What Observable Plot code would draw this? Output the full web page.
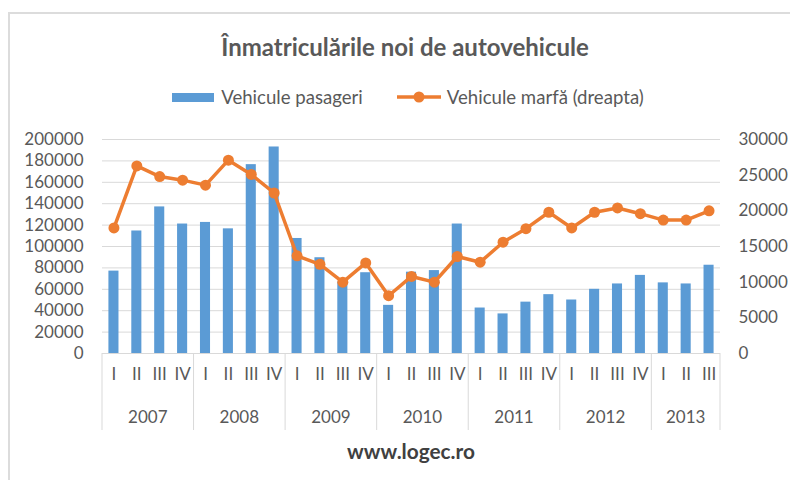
<!DOCTYPE html>
<html>
<head>
<meta charset="utf-8">
<script src="https://cdn.jsdelivr.net/npm/d3@7"></script>
<script src="https://cdn.jsdelivr.net/npm/@observablehq/plot@0.6"></script>
<style>
  html, body { margin: 0; padding: 0; background: #fff; }
  #wrap { position: relative; width: 790px; height: 480px; overflow: hidden; font-family: Lato, "Liberation Sans", sans-serif; color: #595959; }
  #frame { position: absolute; left: 8px; top: 12px; right: -4px; bottom: -4px; border-top: 2px solid #dcdcdc; border-left: 2px solid #dcdcdc; pointer-events: none; }
  #title { position: absolute; left: 0; top: 32px; width: 810px; height: 30px; line-height: 30px; text-align: center; font-weight: bold; font-size: 24px; color: #595959; }
  #legend { position: absolute; left: 0; top: 85px; width: 816px; height: 24px; display: flex; justify-content: center; align-items: center; font-size: 18.6px; color: #595959; }
  #legend .sw { width: 42px; height: 9px; background: #5B9BD5; margin-right: 7px; }
  #legend .gap { width: 34px; }
  #legend svg { margin-right: 6px; }
  #chart { position: absolute; left: 0; top: 109px; }
  #footer { position: absolute; left: 0; top: 436px; width: 822px; height: 30px; line-height: 30px; text-align: center; font-weight: bold; font-size: 20.8px; color: #404040; }
</style>
</head>
<body>
<div id="wrap">
  <div id="frame"></div>
  <div id="title">Înmatriculările noi de autovehicule</div>
  <div id="legend">
    <div class="sw"></div><span>Vehicule pasageri</span>
    <div class="gap"></div>
    <svg width="44" height="14"><line x1="0" y1="7" x2="44" y2="7" stroke="#ED7D31" stroke-width="3.5"/><circle cx="22" cy="7" r="5.5" fill="#ED7D31"/></svg><span>Vehicule marfă (dreapta)</span>
  </div>
  <div id="chart"></div>
  <div id="footer">www.logec.ro</div>
</div>
<script>
// ---- data ----
const yearLabels = ["2007", "2008", "2009", "2010", "2011", "2012", "2013"];
const quartersPerYear = [4, 4, 4, 4, 4, 4, 3];
const quarterLabels = ["I", "II", "III", "IV"];
// Vehicule pasageri (left axis)
const pasageri = [77000, 114500, 137000, 121000, 122500, 116500, 176500, 193000,
                  107500, 89500, 67000, 75500, 45000, 76000, 77500, 121000,
                  42500, 37000, 48000, 55000, 50000, 60000, 65000, 73000,
                  66000, 65000, 82500];
// Vehicule marfă (right axis)
const marfa = [17600, 26300, 24800, 24300, 23600, 27100, 25100, 22500,
               13700, 12500, 10000, 12700, 8100, 10800, 10000, 13600,
               12800, 15600, 17500, 19800, 17600, 19800, 20400, 19600,
               18700, 18700, 20000];
const leftTicks = [0, 20000, 40000, 60000, 80000, 100000, 120000, 140000, 160000, 180000, 200000];
const rightTicks = [0, 5000, 10000, 15000, 20000, 25000, 30000];
const leftMax = 200000, rightMax = 30000;

// ---- table ----
const rows = [];
let idx = 0;
yearLabels.forEach((y, j) => {
  for (let q = 0; q < quartersPerYear[j]; q++) {
    rows.push({key: y + " " + quarterLabels[q], year: y, q: quarterLabels[q], pas: pasageri[idx], marfa: marfa[idx]});
    idx++;
  }
});
const keys = rows.map(d => d.key);
const k = leftMax / rightMax;
const pad = 0.56;

function yearAxis(index, scales, values, dims) {
  const x = scales.x;
  const step = x.step(), bw = x.bandwidth();
  const off = (step - bw) / 2;
  const bottom = dims.height - dims.marginBottom;
  const g = d3.create("svg:g");
  let i = 0;
  const bounds = [];
  yearLabels.forEach((y, j) => {
    const x0 = x(keys[i]) - off;
    const x1 = x(keys[i + quartersPerYear[j] - 1]) + bw + off;
    bounds.push(x0);
    if (j === yearLabels.length - 1) bounds.push(x1);
    g.append("text")
      .attr("x", (x0 + x1) / 2)
      .attr("y", bottom + 64)
      .attr("dy", "0.35em")
      .attr("text-anchor", "middle")
      .attr("fill", "#595959")
      .attr("font-size", 17)
      .text(y);
    i += quartersPerYear[j];
  });
  bounds.forEach(b => {
    g.append("line")
      .attr("x1", b).attr("x2", b)
      .attr("y1", bottom).attr("y2", bottom + 77)
      .attr("stroke", "#d9d9d9").attr("stroke-width", 1);
  });
  return g.node();
}

const chart = Plot.plot({
  width: 790,
  height: 327,
  marginLeft: 102,
  marginRight: 70,
  marginTop: 30,
  marginBottom: 83,
  style: {fontFamily: "Lato, 'Liberation Sans', sans-serif", fontSize: "17px", color: "#595959", background: "transparent", overflow: "visible"},
  x: {domain: keys, paddingInner: pad, paddingOuter: pad / 2, round: false, axis: null},
  y: {domain: [0, leftMax], axis: null},
  marks: [
    Plot.ruleY(leftTicks.slice(1), {stroke: "#d9d9d9", strokeWidth: 1}),
    Plot.axisY(leftTicks, {anchor: "left", tickSize: 0, tickPadding: 19, tickFormat: d => String(d), label: null, fill: "#595959", fontSize: 17}),
    Plot.axisY(rightTicks.map(v => v * k), {anchor: "right", tickSize: 0, tickPadding: 18, tickFormat: d => String(Math.round(d / k)), label: null, fill: "#595959", fontSize: 17}),
    Plot.barY(rows, {x: "key", y: "pas", fill: "#5B9BD5"}),
    Plot.ruleY([0], {stroke: "#d9d9d9", strokeWidth: 1}),
    Plot.line(rows, {x: "key", y: d => d.marfa * k, stroke: "#ED7D31", strokeWidth: 3.5, strokeLinejoin: "round"}),
    Plot.dot(rows, {x: "key", y: d => d.marfa * k, r: 5.5, fill: "#ED7D31", stroke: "none"}),
    Plot.text(rows, {x: "key", text: "q", frameAnchor: "bottom", dy: 26, fill: "#595959", fontSize: 17}),
    yearAxis
  ]
});
document.getElementById("chart").appendChild(chart);
</script>
</body>
</html>
